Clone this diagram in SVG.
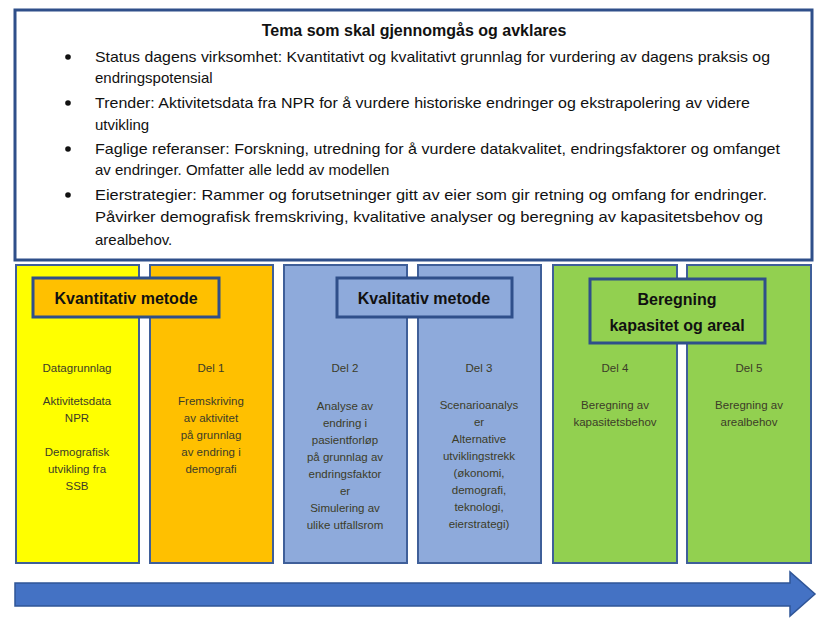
<svg xmlns="http://www.w3.org/2000/svg" width="832" height="620" viewBox="0 0 832 620">
<style>
.col{stroke:#3f5f99;stroke-width:2}
.lab{stroke:#2f4f8a;stroke-width:3}
.t{font-family:"Liberation Sans",Arial,sans-serif;font-size:15px;fill:#111}
.s{font-family:"Liberation Sans",Arial,sans-serif;font-size:11.5px;fill:#3c3c28;text-anchor:middle}
.h{font-family:"Liberation Sans",Arial,sans-serif;font-size:16px;font-weight:bold;fill:#111;text-anchor:middle}
</style>
<rect width="832" height="620" fill="#fff"/>
<g id="tema">
<rect x="15" y="10" width="797" height="250" fill="#fff" stroke="#2f4f8a" stroke-width="3"/>
<text x="414" y="36" class="h">Tema som skal gjennomgås og avklares</text>
<g fill="#111"><circle cx="68" cy="57" r="2.8"/><circle cx="68" cy="103" r="2.8"/><circle cx="68" cy="149" r="2.8"/><circle cx="68" cy="195" r="2.8"/></g>
<text class="t" x="95" y="62" textLength="675" lengthAdjust="spacingAndGlyphs">Status dagens virksomhet: Kvantitativt og kvalitativt grunnlag for vurdering av dagens praksis og</text>
<text class="t" x="95" y="83">endringspotensial</text>
<text class="t" x="95" y="108" textLength="655" lengthAdjust="spacingAndGlyphs">Trender: Aktivitetsdata fra NPR for å vurdere historiske endringer og ekstrapolering av videre</text>
<text class="t" x="95" y="130">utvikling</text>
<text class="t" x="95" y="154" textLength="685" lengthAdjust="spacingAndGlyphs">Faglige referanser: Forskning, utredning for å vurdere datakvalitet, endringsfaktorer og omfanget</text>
<text class="t" x="95" y="175">av endringer. Omfatter alle ledd av modellen</text>
<text class="t" x="95" y="200" textLength="672" lengthAdjust="spacingAndGlyphs">Eierstrategier: Rammer og forutsetninger gitt av eier som gir retning og omfang for endringer.</text>
<text class="t" x="95" y="222" textLength="668" lengthAdjust="spacingAndGlyphs">Påvirker demografisk fremskriving, kvalitative analyser og beregning av kapasitetsbehov og</text>
<text class="t" x="95" y="245">arealbehov.</text>
</g>
<g id="c1"><rect class="col" x="16" y="265" width="123" height="298" fill="#ffff00"/>
<text class="s" x="77" y="372">Datagrunnlag</text><text class="s" x="77" y="405">Aktivitetsdata</text><text class="s" x="77" y="422">NPR</text><text class="s" x="77" y="456">Demografisk</text><text class="s" x="77" y="473">utvikling fra</text><text class="s" x="77" y="490">SSB</text></g>
<g id="c2"><rect class="col" x="150" y="265" width="123" height="298" fill="#ffc000"/>
<text class="s" x="211" y="372">Del 1</text><text class="s" x="211" y="405">Fremskriving</text><text class="s" x="211" y="422">av aktivitet</text><text class="s" x="211" y="439">på grunnlag</text><text class="s" x="211" y="456">av endring i</text><text class="s" x="211" y="473">demografi</text></g>
<g id="c3"><rect class="col" x="284" y="265" width="123" height="298" fill="#8eaadb"/>
<text class="s" x="345" y="372">Del 2</text><text class="s" x="345" y="410">Analyse av</text><text class="s" x="345" y="427">endring i</text><text class="s" x="345" y="444">pasientforløp</text><text class="s" x="345" y="461">på grunnlag av</text><text class="s" x="345" y="478">endringsfaktor</text><text class="s" x="345" y="495">er</text><text class="s" x="345" y="512">Simulering av</text><text class="s" x="345" y="529">ulike utfallsrom</text></g>
<g id="c4"><rect class="col" x="418" y="265" width="123" height="298" fill="#8eaadb"/>
<text class="s" x="479" y="372">Del 3</text><text class="s" x="479" y="409">Scenarioanalys</text><text class="s" x="479" y="426">er</text><text class="s" x="479" y="443">Alternative</text><text class="s" x="479" y="460">utviklingstrekk</text><text class="s" x="479" y="477">(økonomi,</text><text class="s" x="479" y="494">demografi,</text><text class="s" x="479" y="511">teknologi,</text><text class="s" x="479" y="528">eierstrategi)</text></g>
<g id="c5"><rect class="col" x="553" y="265" width="124" height="298" fill="#92d050"/>
<text class="s" x="615" y="372">Del 4</text><text class="s" x="615" y="409">Beregning av</text><text class="s" x="615" y="426">kapasitetsbehov</text></g>
<g id="c6"><rect class="col" x="687" y="265" width="124" height="298" fill="#92d050"/>
<text class="s" x="749" y="372">Del 5</text><text class="s" x="749" y="409">Beregning av</text><text class="s" x="749" y="426">arealbehov</text></g>
<g id="l1"><rect class="lab" x="33" y="278" width="186" height="39" fill="#ffc000"/><text class="h" x="126" y="304">Kvantitativ metode</text></g>
<g id="l2"><rect class="lab" x="337" y="278" width="175" height="39" fill="#8eaadb"/><text class="h" x="424" y="304">Kvalitativ metode</text></g>
<g id="l3"><rect class="lab" x="590" y="279" width="175" height="64" fill="#92d050"/><text class="h" x="677" y="305">Beregning</text><text class="h" x="677" y="331">kapasitet og areal</text></g>
<g id="connectors"><path d="M15 583 H790 V572 L815 594 L790 616 V606 H15 Z" fill="#4472c4" stroke="#2f5597" stroke-width="1.5"/></g>
</svg>
